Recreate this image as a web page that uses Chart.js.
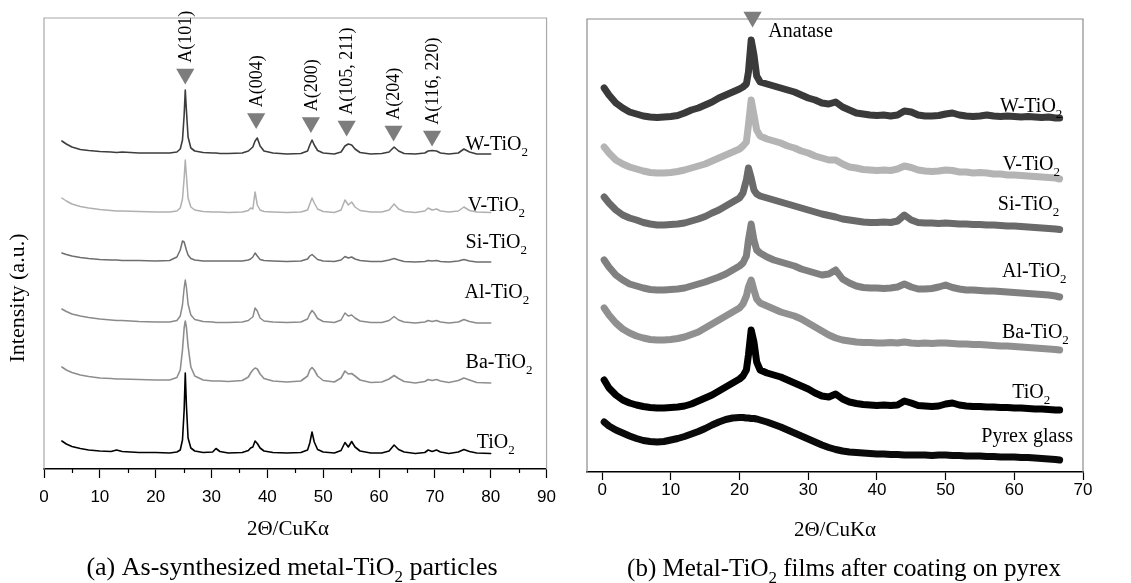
<!doctype html>
<html lang="en">
<head>
<meta charset="utf-8">
<title>XRD patterns of metal-TiO2</title>
<script src="https://cdn.jsdelivr.net/npm/chart.js@4.4.1/dist/chart.umd.min.js"></script>
<style>
  html, body { margin: 0; padding: 0; background: #fff; }
  #wrap { position: relative; width: 1131px; height: 583px; }
  canvas { position: absolute; top: 0; }
  #chartA { left: 0; }
  #chartB { left: 565px; }
</style>
</head>
<body>
<div id="wrap">
  <canvas id="chartA" width="565" height="583"></canvas>
  <canvas id="chartB" width="566" height="583"></canvas>
</div>
<script>
// ---- (a) powders: 2theta grid and stacked intensities (a.u., offset per sample)
const xPowder = [3.2, 4, 5, 6.5, 8, 10, 12, 13, 14, 17, 20, 22.5, 23.8, 24.4, 24.8, 25.1, 25.3, 25.5, 25.8, 26.3,
  27, 28.5, 30.2, 30.8, 31.5, 33, 35.5, 36.6, 37.0, 37.4, 37.8, 38.2, 38.7, 39.4, 41, 43.5, 46, 47.2, 47.6, 48.0,
  48.4, 49.0, 50, 52, 53.2, 53.9, 54.5, 55.1, 55.7, 56.6, 58.5, 60.5, 61.8, 62.7, 63.5, 64.5, 66.5, 68.2, 68.8, 69.5,
  70.3, 71, 72.5, 74.2, 75.2, 76.2, 77.5, 80];

const wPowder = [328, 325, 322, 319.5, 318.5, 317.5, 317, 316.5, 317, 316, 316, 316, 317, 320, 329, 354, 379, 359, 332, 321,
  318, 316.5, 316, 316, 315.5, 315.5, 316, 318, 320, 322, 328, 331, 323, 318, 316, 315, 315.5, 318, 324, 329,
  324, 318.5, 316, 315, 317, 323, 325, 324, 320, 316.5, 315, 315.5, 317, 322, 318, 315.5, 315, 316, 318, 318.5,
  318, 316, 315, 316, 320, 317, 315, 315];

const vPowder = [271, 268, 265, 262.5, 261, 259.5, 258.5, 258, 258, 257.5, 257, 257, 258, 261, 270, 291, 309, 294, 271, 262,
  259, 257.5, 257, 257, 257, 256.5, 257, 258.5, 261, 260, 277, 264, 259, 257.5, 257, 256.5, 257, 259, 265, 271,
  266, 260, 257.5, 256.5, 259, 269, 264, 267, 262, 258.5, 257, 257, 259, 265, 260, 257.5, 256.5, 258, 261, 259,
  260, 258, 257, 258, 262, 258.5, 257, 256.5];

const siPowder = [216, 214.5, 213, 211.5, 210.5, 209.5, 209, 209, 208.5, 208.5, 208, 208.5, 212, 219, 228, 227, 223, 219, 214, 210.5,
  209, 208, 208, 208, 208, 208, 208, 209, 210, 212, 216, 213, 209.5, 208.5, 208, 207.5, 208, 210, 213, 214.5,
  212.5, 209.5, 208, 207.5, 209, 212.5, 211, 212, 210, 208.5, 207.5, 207.5, 209, 210.5, 209, 207.5, 207, 207.5, 208.5, 208,
  208.5, 207.5, 207, 208, 209.5, 208, 207, 207];

const alPowder = [160, 157.5, 155, 153, 151.5, 150, 149, 148.5, 148.5, 147.5, 147, 147, 148.5, 153, 164, 181, 189, 182, 165, 154,
  149.5, 147.5, 147, 146.5, 146.5, 146.5, 147, 148.5, 150.5, 152, 161, 158, 151, 148, 147, 146.5, 147, 150, 155, 158.5,
  156, 150.5, 147.5, 146.5, 149, 156, 153, 154, 151, 148, 146.5, 146.5, 148.5, 152.5, 149, 147, 146, 147, 148.5, 147.5,
  148.5, 147, 146, 147, 149.5, 147.5, 146, 146];

const baPowder = [102, 99, 96.5, 94, 92.5, 91, 90.5, 90, 90, 89.5, 89, 89, 91.5, 99, 119, 141, 148, 142, 123, 102,
  93, 89, 88, 88, 88, 87.5, 88.5, 92, 96, 99, 101, 100, 95, 90.5, 88, 87, 88, 93, 99, 101.5,
  99, 93, 88.5, 87, 91, 98, 95, 95.5, 93, 89, 86.5, 87, 90, 93.5, 90.5, 87.5, 86, 87.5, 89.5, 88.5,
  89.5, 88, 86.5, 88.5, 91, 89, 86.5, 86];

const tiPowder = [28, 25, 22.5, 20.5, 19, 18, 17.5, 19, 17.5, 16.5, 16.5, 16, 17, 19, 29, 59, 96, 64, 31, 21,
  18, 16.5, 17, 20.5, 17.5, 16, 16.5, 18.5, 21, 22, 28, 25.5, 21, 18, 16.5, 16, 16.5, 19, 26, 37,
  27, 19.5, 17, 16, 18.5, 26.5, 22, 27.5, 22, 18, 16, 16, 18, 24, 19.5, 17, 15.5, 16.5, 19, 17.5,
  19, 17, 15.5, 17, 19.5, 17.5, 16, 15.5];

// anatase reflections marked above the W-TiO2 pattern
const peakNames = ['A(101)', 'A(004)', 'A(200)', 'A(105, 211)', 'A(204)', 'A(116, 220)'];
const peakPos = [25.3, 38.0, 47.8, 54.2, 62.6, 69.5];
const peakMark = [395, 350.5, 346.5, 343, 338, 333];

// ---- (b) films on pyrex
const xFilm = [0.3, 1, 2, 3, 4, 5, 6, 7, 8, 9, 10, 11, 12, 13, 14, 15, 16, 17, 18, 19, 20,
  20.5, 21, 21.3, 21.7, 22.1, 22.5,
  23, 24, 25, 26, 27, 28, 29, 30, 31, 32, 33, 34, 35, 36, 37, 38, 39, 40, 41, 42, 43, 44,
  45, 46, 47, 48, 49, 50, 51, 52, 53, 54, 55, 56, 57, 58, 59, 60, 61, 62, 63, 64, 65, 66, 66.6];

const wFilm = [384, 377, 369, 364, 360, 358, 356, 355, 354.5, 355, 355.5, 356.5, 359, 362, 364, 367, 370, 374, 377, 380, 383,
  385, 388, 400, 432, 417, 396,
  390, 388, 386, 384, 382, 380, 377, 374, 372, 369, 368, 370, 365, 362, 359, 358, 357, 356.5, 357, 356, 357, 361,
  360, 357, 356, 356, 356.5, 358, 359, 357, 356, 355.5, 356, 357, 356, 355.5, 356, 355.5, 355, 355.5, 355, 354.5, 355, 354, 354];

const vFilm = [325, 319, 312, 308, 305, 303, 301, 299.5, 299, 299, 299.5, 300.5, 302, 304, 306, 308, 311, 314, 317, 320, 323,
  326, 330, 347, 372, 357, 342,
  336, 333, 331, 329, 326, 324, 321, 319, 316, 314, 312, 312, 308, 305, 304, 302.5, 302, 301.5, 302, 301.5, 303, 306,
  304.5, 302, 301, 300.5, 301, 302, 301.5, 300, 300, 299, 299.5, 299, 298, 298, 297, 297, 296.5, 296, 295.5, 295, 294.5, 294, 293];

const siFilm = [275, 269, 262, 257, 254, 252, 249.5, 248, 247, 247, 247.5, 248, 249, 251, 253, 255.5, 259, 262, 266, 270, 274,
  279, 292, 304, 294, 282, 278,
  276, 274, 272, 270, 268, 266, 264, 262, 260, 258, 256.5, 255, 253, 252, 251, 250, 249.5, 249.5, 250, 249.5, 251, 257,
  252, 249.5, 249, 249, 248.5, 249, 248.5, 248, 248, 247.5, 247.5, 247, 247, 246.5, 246, 246, 245.5, 245, 244.5, 244, 243.5, 243, 242.5];

const alFilm = [212, 205, 197, 192, 188, 186, 184, 182.5, 182, 182, 182.5, 183, 184, 186, 188, 190, 192.5, 195, 198, 202, 206,
  209, 216, 232, 248, 232, 222,
  219, 215, 212, 210, 208, 206, 203, 201, 199, 197, 198, 202, 193, 189, 186, 184.5, 184, 184, 183.5, 184, 185, 188,
  185, 183, 183, 183.5, 185, 187, 184.5, 183, 182, 182, 181.5, 181, 181, 180.5, 180, 179.5, 179, 178.5, 178, 177.5, 177, 176, 175];

const baFilm = [164, 157, 149, 143, 139, 136, 134, 132.5, 132, 132, 132.5, 133.5, 135, 137.5, 140, 144, 148, 152, 156, 160, 164,
  168, 176, 185, 192, 182, 173,
  169, 166, 163, 160, 158, 156, 153, 149, 145, 141, 137, 134, 132, 131, 130, 129.5, 129.5, 129, 129, 129.5, 129, 130,
  129, 128.5, 129, 128.5, 129, 129, 128.5, 128, 128, 127.5, 127.5, 127, 126.5, 126, 126, 125.5, 125, 124.5, 124, 123.5, 123, 122.5, 122];

const tiFilm = [92, 84, 77, 72, 69, 67, 65.5, 64.5, 64, 64, 64.5, 65, 66, 68, 71, 74, 77, 81, 85, 89, 93,
  96, 102, 117, 142, 130, 110,
  102, 99, 97, 95, 92, 89, 86, 83, 79, 76, 75, 78, 73, 70, 68.5, 67.5, 67, 66.5, 67, 66.5, 67, 71,
  69, 66.5, 66, 65.5, 66, 68, 69, 67, 66, 65.5, 65.5, 65, 65, 64.5, 64.5, 64, 64, 63.5, 63, 63, 62.5, 62, 62];

const pyrexFilm = [50, 46, 42, 39, 36, 33.5, 31.5, 30.5, 30, 30.5, 32, 33.5, 35.5, 38, 40.5, 43.5, 47, 50, 52.5, 54, 54.5,
  54.5, 54, 54, 53.5, 53.5, 53,
  52, 50, 47.5, 45, 42, 39, 36, 33, 30, 27, 24.5, 22.5, 21, 20, 19.5, 19, 18.5, 18, 18, 17.5, 17.5, 17,
  17, 17, 17, 16.5, 17, 17, 16.5, 16.5, 16, 16, 16, 15.5, 15.5, 15, 15, 15, 14.5, 14.5, 14, 13.5, 13, 12.5, 12];

const anatasePos = [21.9];
const anataseMark = [455];

// axis ticks
const ticksA = [0, 10, 20, 30, 40, 50, 60, 70, 80, 90];
const minorA = [5, 15, 25, 35, 45, 55, 65, 75, 85];
const ticksB = [0, 10, 20, 30, 40, 50, 60, 70];

const SERIF = '"Liberation Serif", "Times New Roman", serif';
const SANS = '"Liberation Sans", Arial, sans-serif';

function toPoints(xs, ys) {
  return xs.map((x, i) => ({ x: x, y: ys[i] }));
}

function trace(xs, ys, colour, width) {
  return {
    data: toPoints(xs, ys),
    showLine: true,
    borderColor: colour,
    borderWidth: width,
    pointRadius: 0,
    borderJoinStyle: 'round',
    borderCapStyle: 'round'
  };
}

function markers(xs, ys) {
  return {
    data: toPoints(xs, ys),
    showLine: false,
    pointStyle: 'triangle',
    rotation: 180,
    pointRadius: 10.5,
    pointHoverRadius: 10.5,
    backgroundColor: '#7d7d7d',
    borderWidth: 0,
    clip: false
  };
}

// text with a subscript digit after "_", e.g. "TiO_2"
function drawRich(ctx, text, x, y, size, align) {
  const parts = text.split(/_(\d)/);
  const sub = Math.round(size * 0.66);
  let w = 0;
  parts.forEach((p, i) => {
    ctx.font = (i % 2 ? sub : size) + 'px ' + SERIF;
    w += ctx.measureText(p).width;
  });
  let cx = align === 'center' ? x - w / 2 : x;
  parts.forEach((p, i) => {
    ctx.font = (i % 2 ? sub : size) + 'px ' + SERIF;
    ctx.fillText(p, cx, i % 2 ? y + size * 0.28 : y);
    cx += ctx.measureText(p).width;
  });
}

const textMarks = {
  id: 'textMarks',
  beforeDatasetsDraw(chart, args, opts) {
    // light frame on the left, top and right of the plot
    const { ctx, chartArea: a } = chart;
    ctx.save();
    ctx.strokeStyle = opts.frame;
    ctx.lineWidth = 1.2;
    ctx.beginPath();
    ctx.moveTo(a.left, a.bottom);
    ctx.lineTo(a.left, a.top);
    ctx.lineTo(a.right, a.top);
    ctx.lineTo(a.right, a.bottom);
    ctx.stroke();
    ctx.restore();
  },
  afterDraw(chart, args, opts) {
    const { ctx } = chart;
    const xs = chart.scales.x, ys = chart.scales.y;
    ctx.save();
    ctx.fillStyle = '#000';
    ctx.textAlign = 'left';
    ctx.textBaseline = 'alphabetic';

    // short minor ticks under the axis
    ctx.strokeStyle = '#000';
    ctx.lineWidth = 1.2;
    (opts.minor || []).forEach(v => {
      const px = Math.round(xs.getPixelForValue(v)) + 0.5;
      ctx.beginPath();
      ctx.moveTo(px, xs.top);
      ctx.lineTo(px, xs.top + 4);
      ctx.stroke();
    });

    // sample names next to each pattern
    opts.labels.forEach(l => {
      drawRich(ctx, l.text, xs.getPixelForValue(l.x), ys.getPixelForValue(l.y), opts.labelSize, 'left');
    });

    // vertical reflection labels above the markers
    (opts.peaks || []).forEach((name, i) => {
      const px = xs.getPixelForValue(peakPos[i]);
      const py = ys.getPixelForValue(peakMark[i]) - 5.25 - 6;
      ctx.save();
      ctx.translate(px, py);
      ctx.rotate(-Math.PI / 2);
      ctx.font = '18px ' + SERIF;
      ctx.textBaseline = 'middle';
      ctx.fillText(name, 0, 1);
      ctx.restore();
    });

    if (opts.yTitle) {
      ctx.save();
      ctx.translate(opts.yTitle.x, opts.yTitle.y);
      ctx.rotate(-Math.PI / 2);
      ctx.font = '22px ' + SERIF;
      ctx.textAlign = 'center';
      ctx.textBaseline = 'middle';
      ctx.fillText(opts.yTitle.text, 0, 0);
      ctx.restore();
    }

    if (opts.xTitle) {
      ctx.font = '21px ' + SERIF;
      ctx.textAlign = 'center';
      ctx.textBaseline = 'middle';
      ctx.fillText(opts.xTitle.text, opts.xTitle.x, opts.xTitle.y);
      ctx.textAlign = 'left';
      ctx.textBaseline = 'alphabetic';
    }

    drawRich(ctx, opts.caption.text, opts.caption.x, opts.caption.y, opts.caption.size, 'center');
    ctx.restore();
  }
};

function xAxis(min, max, ticks, tickLen, pad, height, title, titlePad) {
  return {
    type: 'linear',
    min: min,
    max: max,
    afterBuildTicks: s => { s.ticks = ticks.map(v => ({ value: v })); },
    ticks: { color: '#000', font: { family: SANS, size: 17 }, padding: pad, maxRotation: 0, autoSkip: false },
    grid: { drawOnChartArea: false, drawTicks: true, tickLength: tickLen, tickColor: '#000', tickWidth: 1.2 },
    border: { color: '#000', width: 1.5 },
    title: { display: title, text: '2Θ/CuKα', color: '#000', font: { family: SERIF, size: 21 }, padding: { top: 0, bottom: titlePad } },
    afterFit: s => { s.height = height; }
  };
}

function yAxis(max, width) {
  return {
    min: 0,
    max: max,
    ticks: { display: false },
    grid: { display: false },
    border: { display: false },
    afterFit: s => { s.width = width; }
  };
}

new Chart(document.getElementById('chartA'), {
  type: 'scatter',
  data: {
    datasets: [
      trace(xPowder, wPowder, '#3d3d3d', 1.6),
      trace(xPowder, vPowder, '#b0b0b0', 1.5),
      trace(xPowder, siPowder, '#6e6e6e', 1.5),
      trace(xPowder, alPowder, '#8a8a8a', 1.5),
      trace(xPowder, baPowder, '#8e8e8e', 1.6),
      trace(xPowder, tiPowder, '#000000', 1.6),
      markers(peakPos, peakMark)
    ]
  },
  options: {
    responsive: false,
    animation: false,
    events: [],
    layout: { padding: { left: 0, top: 18, right: 18, bottom: 0 } },
    plugins: {
      legend: { display: false },
      tooltip: { enabled: false },
      textMarks: {
        frame: '#a8a8a8',
        minor: minorA,
        labelSize: 20,
        peaks: peakNames,
        labels: [
          { text: 'W-TiO_2', x: 75.5, y: 319 },
          { text: 'V-TiO_2', x: 75.9, y: 258 },
          { text: 'Si-TiO_2', x: 75.5, y: 221 },
          { text: 'Al-TiO_2', x: 75.3, y: 171 },
          { text: 'Ba-TiO_2', x: 75.5, y: 101 },
          { text: 'TiO_2', x: 77.5, y: 21 }
        ],
        yTitle: { text: 'Intensity (a.u.)', x: 18, y: 298 },
        xTitle: { text: '2Θ/CuKα', x: 288, y: 529 },
        caption: { text: '(a) As-synthesized metal-TiO_2 particles', x: 292, y: 575, size: 26 }
      }
    },
    scales: {
      x: xAxis(0, 90, ticksA, 9, 9, 114, false, 42),
      y: yAxis(451, 44)
    }
  },
  plugins: [textMarks]
});

new Chart(document.getElementById('chartB'), {
  type: 'scatter',
  data: {
    datasets: [
      trace(xFilm, wFilm, '#3a3a3a', 7),
      trace(xFilm, vFilm, '#b4b4b4', 7),
      trace(xFilm, siFilm, '#6a6a6a', 7),
      trace(xFilm, alFilm, '#808080', 7),
      trace(xFilm, baFilm, '#909090', 7),
      trace(xFilm, tiFilm, '#000000', 7),
      trace(xFilm, pyrexFilm, '#0a0a0a', 7),
      markers(anatasePos, anataseMark)
    ]
  },
  options: {
    responsive: false,
    animation: false,
    events: [],
    layout: { padding: { left: 0, top: 19, right: 48, bottom: 0 } },
    plugins: {
      legend: { display: false },
      tooltip: { enabled: false },
      textMarks: {
        frame: '#8c8c8c',
        labelSize: 20,
        labels: [
          { text: 'Anatase', x: 24.2, y: 435 },
          { text: 'W-TiO_2', x: 57.9, y: 360 },
          { text: 'V-TiO_2', x: 58.3, y: 302 },
          { text: 'Si-TiO_2', x: 57.6, y: 262 },
          { text: 'Al-TiO_2', x: 58.2, y: 195 },
          { text: 'Ba-TiO_2', x: 58.2, y: 134 },
          { text: 'TiO_2', x: 59.7, y: 74 },
          { text: 'Pyrex glass', x: 55.2, y: 30 }
        ],
        caption: { text: '(b) Metal-TiO_2 films after coating on pyrex', x: 279, y: 576, size: 25 }
      }
    },
    scales: {
      x: xAxis(-2.2, 70, ticksB, 8, 0, 111, true, 40),
      y: yAxis(453, 22)
    }
  },
  plugins: [textMarks]
});
</script>
</body>
</html>
